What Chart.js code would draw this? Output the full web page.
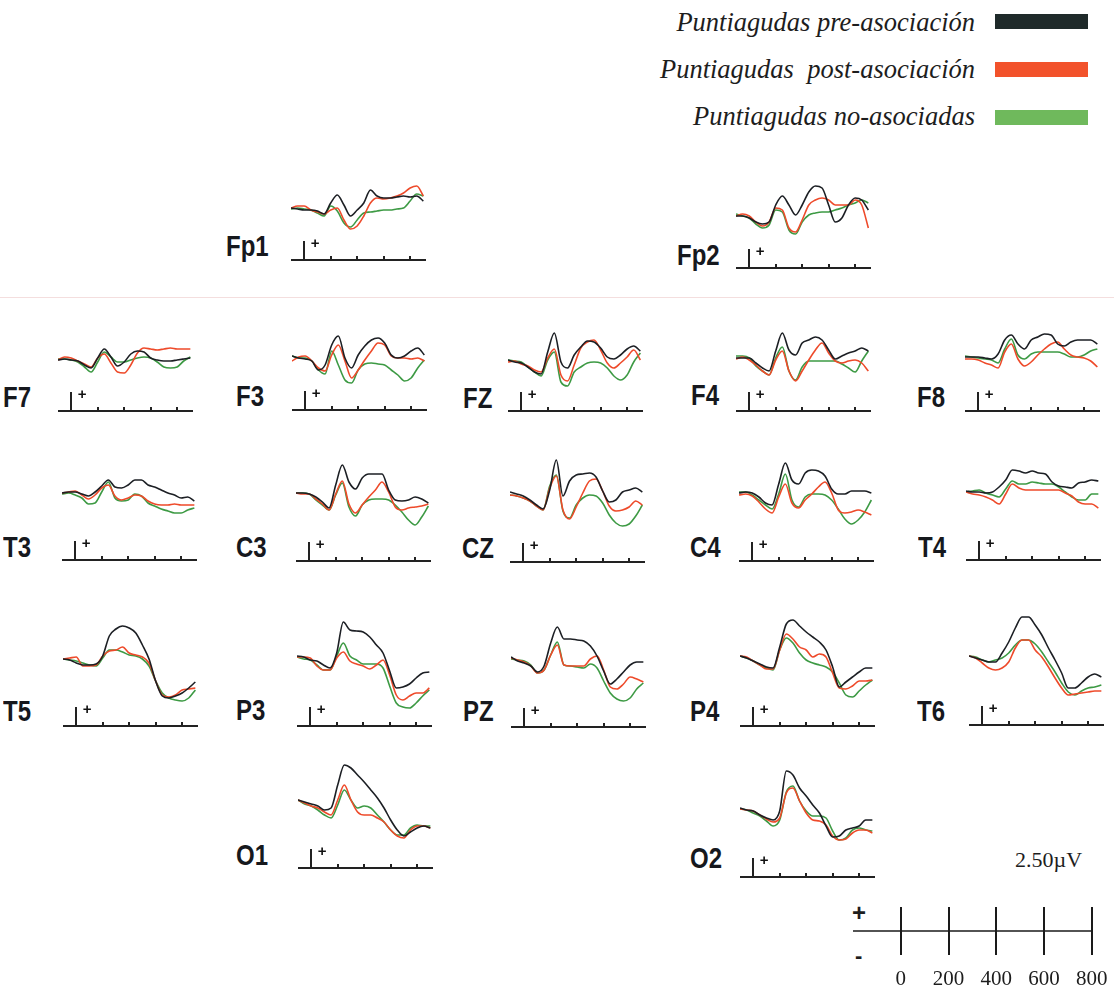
<!DOCTYPE html>
<html>
<head>
<meta charset="utf-8">
<script src="https://cdn.jsdelivr.net/npm/chart.js@4.4.0/dist/chart.umd.min.js"></script>
<style>
  body { margin: 0; background: #fff; width: 1114px; height: 993px; position: relative; overflow: hidden; }
  canvas { position: absolute; }
  .lbl { position: absolute; font: bold 30px "Liberation Sans", Arial, sans-serif; color: #16181d;
         line-height: 1; white-space: nowrap; transform: scaleX(0.8); transform-origin: 0 0; }
  .leg { position: absolute; right: 139px; font: italic 26.5px "Liberation Serif", "Times New Roman", serif;
         color: #1d1d1d; line-height: 1; white-space: nowrap; }
  .sw { position: absolute; left: 995px; width: 93px; height: 15px; }
  .txt { position: absolute; line-height: 1; white-space: nowrap; color: #1d1d1d; }
  .fold { position: absolute; left: 0; top: 297px; width: 1114px; height: 1px; background: #f4dede; }
</style>
</head>
<body>
<div class="fold"></div>

<div class="leg" style="top:9px">Puntiagudas pre-asociación</div>
<div class="leg" style="top:56px">Puntiagudas&nbsp; post-asociación</div>
<div class="leg" style="top:103px">Puntiagudas no-asociadas</div>
<div class="sw" style="top:14px;background:#1f2a2a"></div>
<div class="sw" style="top:62px;background:#f2522b"></div>
<div class="sw" style="top:110px;background:#6fb95c"></div>

<div class="txt" style="left:1015px;top:847px;font:22px 'Liberation Serif',serif">2.50µV</div>
<div class="txt" style="left:852px;top:899px;font:bold 24px 'Liberation Sans',sans-serif">+</div>
<div class="txt" style="left:855px;top:943px;font:bold 22px 'Liberation Sans',sans-serif">-</div>

<script>
// time points (ms) for every trace
const times = [-100, -50, 0, 50, 100, 150, 200, 250, 300, 350, 400, 450, 500, 550, 600, 650, 700, 750, 800, 850, 900];
const axisTicks = [0, 200, 400, 600, 800];
const scaleTicks = [0, 200, 400, 600, 800];

// amplitudes in µV (positive up), one array per electrode and condition
const fp1Pre  = [0, -0.1, -0.2, -0.2, -0.3, -0.6, 0.5, 1.3, 0.3, -0.8, -0.2, 0.5, 1.8, 1.2, 1.0, 1.0, 1.1, 1.2, 1.1, 1.2, 0.7];
const fp1Post = [0, 0.2, 0.2, -0.2, -0.4, -0.6, -0.2, 0, -1.2, -2.1, -1.8, -0.8, 0.5, 1.0, 0.9, 1.0, 1.2, 1.5, 2.0, 2.2, 1.2];
const fp1No   = [-0.1, 0, -0.1, -0.2, -0.5, -0.8, 0.2, -0.3, -1.5, -1.9, -1.2, -0.5, -0.4, -0.3, -0.2, -0.2, -0.1, 0, 0.7, 1.4, 1.2];

const fp2Pre  = [0, 0, -0.2, -0.6, -0.8, -0.6, 1.1, 2.0, 1.1, 0.1, 1.1, 2.4, 3.0, 2.8, 1.1, -0.6, -0.2, 1.1, 1.8, 1.6, 0.6];
const fp2Post = [0, 0.2, 0, -0.6, -1.0, -0.6, 0.8, 0.6, -1.2, -1.6, -0.4, 1.1, 1.6, 1.8, 1.6, 1.1, 1.1, 1.1, 1.6, 1.1, -1.2];
const fp2No   = [0.2, 0, -0.2, -0.8, -1.2, -0.9, 0.6, 0.4, -1.4, -1.8, -0.6, 0.1, 0.3, 0.4, 0.4, 0.6, 0.8, 1.1, 1.3, 1.6, 1.3];

const f7Pre  = [0, 0.1, 0, -0.1, -0.5, -0.8, 0.2, 1.1, 0.3, -0.6, -0.2, 0.6, 0.9, 0.8, 0.2, 0, -0.1, -0.1, 0, 0.1, 0.2];
const f7Post = [0, 0.3, 0.2, -0.1, -0.4, -0.7, 0.2, 0.6, -0.3, -1.2, -1.3, -0.5, 0.7, 1.2, 1.1, 1.0, 1.1, 1.2, 1.1, 1.1, 1.1];
const f7No   = [0.1, 0.1, 0, -0.2, -0.7, -1.2, -0.2, 0.8, 0.3, -0.2, -0.2, 0, 0.2, 0.3, 0.2, -0.2, -0.7, -0.8, -0.7, -0.1, 0.3];

const f3Pre  = [0.2, 0, -0.1, -0.3, -1.2, -0.7, 1.3, 2.2, 0, -1.0, 0.3, 1.2, 1.8, 2.0, 1.5, 0.3, 0, 0.2, 0.7, 1.0, 0.3];
const f3Post = [-0.3, 0.1, 0.2, -0.3, -1.0, -1.3, 0.3, 1.3, -0.3, -2.0, -1.2, -0.2, 0.7, 1.5, 1.3, 0.2, 0, 0, -0.1, 0, -0.3];
const f3No   = [0.2, 0, 0, -0.3, -1.2, -1.6, 0.7, -0.7, -2.2, -2.5, -1.2, -0.6, -0.5, -0.6, -0.7, -1.2, -1.7, -2.3, -2.0, -1.0, -0.2];

const fzPre  = [0.1, -0.1, -0.2, -0.6, -1.1, -1.3, 0.9, 2.8, -0.1, -0.7, 0.6, 1.4, 2.0, 1.9, 1.3, 0.4, 0.2, 0.6, 1.2, 1.5, 1.0];
const fzPost = [-0.1, 0, -0.3, -0.5, -0.9, -1.1, 0.3, 1.2, -1.4, -2.0, -0.4, 1.3, 1.9, 2.1, 1.1, -0.2, -0.7, -0.2, 0.4, 1.1, 0.1];
const fzNo   = [0.1, 0, -0.1, -0.6, -1.1, -1.5, 0.1, 0.9, -2.1, -2.5, -1.1, -0.6, -0.2, -0.1, -0.2, -0.7, -1.5, -1.9, -1.4, -0.1, 0.8];

const f4Pre  = [0, 0, 0, -0.5, -1.0, -1.3, 0.7, 2.5, 0.8, 0.3, 1.5, 1.8, 2.1, 1.8, 0.8, -0.1, 0.2, 0.5, 0.7, 1.0, 0.7];
const f4Post = [-0.1, 0.1, -0.2, -0.7, -1.3, -1.7, -0.2, 0.7, -1.3, -2.3, -1.3, -0.2, 0.8, 1.5, 0.5, -0.3, -0.5, -0.3, -0.2, -0.5, -1.3];
const f4No   = [0.2, 0.2, 0, -0.8, -1.3, -1.7, 0, 1.1, -1.3, -2.2, -0.9, -0.3, -0.3, -0.3, -0.3, -0.3, -0.6, -1.0, -1.4, -0.3, 0.7];

const f8Pre  = [0, 0, 0, -0.1, -0.2, 0.3, 1.7, 2.2, 1.3, 0.8, 1.7, 2.0, 2.3, 2.2, 1.3, 1.1, 1.5, 1.7, 1.7, 1.7, 1.3];
const f8Post = [-0.2, -0.2, -0.3, -0.6, -0.8, -1.1, 0.5, 1.3, -0.2, -0.9, -0.5, 0.2, 0.8, 1.3, 1.5, 0.8, 0.2, 0, -0.1, -0.4, -1.0];
const f8No   = [0.1, 0, -0.1, -0.2, -0.3, -0.6, 0.8, 1.8, 0.2, -0.2, 0.3, 0.5, 0.5, 0.5, 0.5, 0.3, 0, 0, 0.2, 0.6, 0.8];

const t3Pre  = [0, 0.1, 0.1, -0.1, -0.3, 0.1, 0.7, 1.3, 0.6, 0.5, 0.8, 1.3, 1.3, 0.8, 0.6, 0.3, 0, -0.2, -0.5, -0.4, -0.8];
const t3Post = [0, 0.1, 0.2, -0.2, -0.6, -0.2, 0.5, 0.8, -0.3, -0.7, -0.5, -0.2, -0.3, -0.8, -1.1, -1.2, -1.2, -1.1, -1.2, -1.2, -1.2];
const t3No   = [-0.1, 0, -0.2, -0.5, -1.1, -1.0, 0.1, 1.1, -0.5, -0.8, -0.7, -0.1, -0.3, -1.0, -1.3, -1.6, -1.8, -2.0, -2.0, -1.7, -1.5];

const c3Pre  = [0, 0, -0.1, -0.4, -0.9, -1.5, 0.8, 2.8, 1.1, 0.4, 1.5, 1.9, 1.9, 1.9, 0.3, -0.7, -0.8, -0.7, -0.4, -0.6, -1.0];
const c3Post = [0, -0.1, -0.1, -0.6, -1.1, -1.7, -0.1, 1.2, -1.1, -2.0, -1.2, -0.4, 0.3, 1.1, 0.1, -1.4, -1.7, -1.5, -1.4, -1.3, -1.1];
const c3No   = [0, 0, -0.1, -0.7, -1.2, -1.7, -0.2, 1.0, -1.4, -2.3, -1.2, -0.7, -0.6, -0.6, -0.7, -1.2, -1.9, -2.7, -3.2, -2.4, -1.3];

const czPre  = [0.1, -0.1, -0.3, -0.7, -1.2, -1.6, 0.3, 3.3, -0.3, 1.2, 1.8, 1.9, 2.0, 1.6, 0.2, -0.9, -0.7, 0.1, 0.3, 0.5, 0.1];
const czPost = [-0.2, -0.3, -0.5, -0.8, -1.3, -1.7, 0.5, 1.7, -1.7, -2.6, -1.4, 0, 1.2, 1.4, 0.2, -1.3, -1.8, -1.7, -1.4, -0.8, -1.2];
const czNo   = [-0.2, -0.3, -0.5, -0.8, -1.3, -1.7, 0.7, 1.8, -1.8, -2.5, -1.2, -0.5, -0.2, -0.3, -1.0, -2.2, -3.0, -3.3, -3.1, -2.3, -1.2];

const c4Pre  = [0, 0.1, 0, -0.4, -1.0, -1.2, 0.9, 3.0, 1.3, 0.9, 2.0, 2.3, 2.2, 1.7, 0.4, -0.1, -0.1, 0.2, 0.2, 0.2, 0];
const c4Post = [-0.2, -0.1, -0.3, -0.9, -1.6, -2.0, -0.4, 0.9, -1.0, -1.5, -0.7, -0.1, 0.6, 1.1, 0, -1.7, -2.0, -1.9, -1.7, -1.9, -2.2];
const c4No   = [0.1, 0.1, -0.2, -0.7, -1.2, -1.6, -0.1, 1.9, -0.7, -1.4, -0.4, -0.1, -0.1, -0.2, -0.7, -1.6, -2.6, -3.1, -2.7, -1.9, -0.7];

const t4Pre  = [0.1, 0, 0, -0.1, 0, 0.5, 1.2, 2.2, 2.1, 1.9, 2.1, 1.9, 1.8, 1.0, 0.6, 0.5, 0.4, 0.9, 1.0, 1.2, 1.1];
const t4Post = [0, -0.2, -0.3, -0.5, -0.8, -1.2, -0.2, 0.8, 0.4, 0.2, 0.2, 0.2, 0.2, 0.2, 0.2, -0.1, -0.4, -1.0, -1.2, -1.2, -1.6];
const t4No   = [0, 0.1, 0.2, -0.1, -0.3, -0.5, 0.3, 1.1, 0.8, 0.8, 1.0, 0.9, 0.8, 0.8, 0.5, 0, -0.5, -0.8, -0.8, -0.2, -0.2];

const t5Pre  = [0, -0.1, -0.4, -0.6, -0.6, -0.5, 0.3, 2.3, 3.0, 3.3, 3.1, 2.6, 1.4, 0, -2.2, -3.7, -3.9, -3.7, -3.4, -2.9, -2.3];
const t5Post = [0, 0.1, 0.2, -0.7, -0.7, -0.6, 0.3, 0.8, 0.9, 1.2, 0.6, 0.4, 0.2, -0.4, -2.2, -3.6, -3.8, -3.6, -3.1, -3.0, -2.9];
const t5No   = [0, -0.1, -0.2, -0.4, -0.6, -0.7, 0.1, 0.9, 0.9, 0.7, 0.4, 0.3, 0, -0.7, -2.2, -3.4, -3.9, -4.1, -4.2, -3.9, -3.1];

const p3Pre  = [0.1, 0, -0.3, -0.4, -0.8, -1.1, 0.4, 3.5, 2.7, 2.6, 2.5, 2.0, 1.2, 0.4, -1.4, -3.1, -3.0, -2.7, -2.1, -1.6, -1.5];
const p3Post = [0, 0, -0.1, -0.9, -1.3, -1.3, -0.1, 0.5, -0.4, -0.7, -0.9, -1.2, -0.8, -0.3, -1.8, -3.8, -4.3, -3.9, -3.6, -3.6, -3.1];
const p3No   = [0, -0.2, -0.3, -0.8, -1.3, -1.3, 0.1, 1.4, 0.1, -0.3, -0.7, -0.7, -0.7, -1.1, -2.9, -4.6, -5.0, -5.1, -4.6, -3.9, -3.3];

const pzPre  = [0.1, -0.3, -0.5, -0.8, -1.4, -0.8, 1.5, 3.1, 1.9, 1.9, 1.8, 1.7, 1.2, 0.2, -1.3, -2.6, -2.1, -1.4, -0.7, -0.4, -0.4];
const pzPost = [0, -0.2, -0.4, -0.8, -1.5, -1.2, 0.3, 1.3, -0.7, -0.8, -0.8, -0.8, -0.1, 0.2, -1.2, -2.9, -3.1, -2.6, -1.9, -2.1, -2.4];
const pzNo   = [-0.1, -0.2, -0.3, -0.7, -1.5, -1.2, 0.3, 1.6, -0.7, -0.8, -0.9, -1.0, -0.6, -1.0, -2.3, -3.5, -4.1, -4.3, -4.0, -3.1, -2.5];

const p4Pre  = [0, -0.2, -0.5, -0.8, -1.1, -1.2, 0.9, 3.2, 3.6, 3.0, 2.4, 1.9, 1.4, 0.6, -1.1, -3.1, -2.6, -2.1, -1.6, -1.2, -1.2];
const p4Post = [0, -0.1, -0.5, -0.9, -1.3, -1.3, 0.6, 2.2, 1.7, 0.9, 0.6, -0.1, 0.2, -0.1, -1.7, -3.2, -3.3, -3.0, -2.5, -2.5, -2.4];
const p4No   = [0, -0.2, -0.5, -0.9, -1.2, -1.4, 0.6, 1.8, 1.3, 0.3, -0.4, -0.7, -0.9, -1.1, -1.6, -2.7, -3.9, -4.1, -3.5, -2.9, -2.4];

const t6Pre  = [0, -0.2, -0.4, -0.6, -0.6, 0.3, 1.4, 2.8, 3.9, 3.9, 3.1, 2.1, 0.8, -0.4, -1.7, -3.2, -3.2, -2.7, -2.1, -1.8, -2.1];
const t6Post = [0, -0.2, -0.7, -1.2, -1.4, -1.2, -0.6, 0.8, 1.6, 1.6, 0.6, -0.1, -1.1, -2.2, -3.2, -3.9, -3.8, -3.7, -3.6, -3.5, -3.5];
const t6No   = [0, -0.1, -0.4, -0.6, -0.4, -0.2, 0.3, 1.1, 1.6, 1.6, 1.2, 0.4, -0.6, -1.6, -2.7, -3.6, -3.9, -3.5, -3.2, -3.1, -2.9];

const o1Pre  = [0, -0.2, -0.4, -0.6, -1.0, -0.8, 1.5, 3.5, 3.2, 2.5, 1.8, 1.0, 0.2, -0.8, -2.0, -3.0, -3.6, -3.2, -2.8, -2.6, -2.8];
const o1Post = [0, -0.3, -0.6, -0.8, -1.2, -1.5, 0, 1.5, 0, -1.2, -1.5, -1.5, -1.8, -2.2, -3.0, -3.6, -3.8, -3.0, -2.6, -2.6, -2.8];
const o1No   = [0, -0.4, -0.6, -1.0, -1.5, -1.8, -0.5, 1.0, 0, -0.8, -0.6, -0.8, -1.5, -2.2, -3.0, -3.5, -3.5, -2.8, -2.5, -2.6, -2.6];

const o2Pre  = [0.1, -0.1, -0.2, -0.6, -0.9, -1.1, -0.2, 3.8, 3.4, 2.1, 1.3, 0.4, -0.4, -1.7, -2.8, -2.7, -2.1, -1.9, -1.7, -1.1, -1.1];
const o2Post = [0, -0.1, -0.2, -0.6, -1.0, -1.3, -0.9, 1.6, 2.1, 0.8, -0.4, -1.1, -1.2, -1.6, -2.7, -3.1, -3.0, -2.4, -2.1, -2.1, -2.4];
const o2No   = [0, -0.1, -0.4, -0.7, -1.2, -1.7, -1.1, 1.7, 2.3, 0.8, -0.2, -0.7, -0.7, -0.9, -2.2, -3.1, -2.9, -2.1, -1.9, -2.1, -2.2];

const seriesNames = ['Puntiagudas pre-asociación', 'Puntiagudas post-asociación', 'Puntiagudas no-asociadas'];
const traceColors = ['#1c1f24', '#ee4a2a', '#3d9a44'];

// where each electrode sits on the page: left edge of the time axis, axis height, baseline gap, label spot
const panels = [
  { name: 'Fp1', left: 291, axisY: 260, gap: 52, lx: 226, ly: 246, data: [fp1Pre, fp1Post, fp1No] },
  { name: 'Fp2', left: 736, axisY: 268, gap: 52, lx: 677, ly: 255, data: [fp2Pre, fp2Post, fp2No] },
  { name: 'F7',  left: 58,  axisY: 411, gap: 51, lx: 3,   ly: 397, data: [f7Pre, f7Post, f7No] },
  { name: 'F3',  left: 292, axisY: 410, gap: 52, lx: 236, ly: 396, data: [f3Pre, f3Post, f3No] },
  { name: 'FZ',  left: 508, axisY: 411, gap: 50, lx: 463, ly: 398, data: [fzPre, fzPost, fzNo] },
  { name: 'F4',  left: 736, axisY: 411, gap: 53, lx: 691, ly: 395, data: [f4Pre, f4Post, f4No] },
  { name: 'F8',  left: 965, axisY: 411, gap: 54, lx: 917, ly: 397, data: [f8Pre, f8Post, f8No] },
  { name: 'T3',  left: 62,  axisY: 560, gap: 67, lx: 3,   ly: 547, data: [t3Pre, t3Post, t3No] },
  { name: 'C3',  left: 296, axisY: 561, gap: 68, lx: 236, ly: 547, data: [c3Pre, c3Post, c3No] },
  { name: 'CZ',  left: 510, axisY: 562, gap: 69, lx: 462, ly: 548, data: [czPre, czPost, czNo] },
  { name: 'C4',  left: 739, axisY: 561, gap: 68, lx: 690, ly: 547, data: [c4Pre, c4Post, c4No] },
  { name: 'T4',  left: 966, axisY: 560, gap: 68, lx: 918, ly: 547, data: [t4Pre, t4Post, t4No] },
  { name: 'T5',  left: 63,  axisY: 726, gap: 67, lx: 3,   ly: 711, data: [t5Pre, t5Post, t5No] },
  { name: 'P3',  left: 297, axisY: 726, gap: 69, lx: 236, ly: 710, data: [p3Pre, p3Post, p3No] },
  { name: 'PZ',  left: 511, axisY: 727, gap: 69, lx: 463, ly: 711, data: [pzPre, pzPost, pzNo] },
  { name: 'P4',  left: 740, axisY: 726, gap: 70, lx: 690, ly: 711, data: [p4Pre, p4Post, p4No] },
  { name: 'T6',  left: 969, axisY: 725, gap: 69, lx: 917, ly: 711, data: [t6Pre, t6Post, t6No] },
  { name: 'O1',  left: 298, axisY: 868, gap: 68, lx: 236, ly: 855, data: [o1Pre, o1Post, o1No] },
  { name: 'O2',  left: 740, axisY: 877, gap: 68, lx: 690, ly: 858, data: [o2Pre, o2Post, o2No] }
];

const W = 135, H = 130, PX_PER_UV = 10;

// time axis under each panel: baseline, tall stimulus mark at 0 with "+", small ticks
const timeAxis = {
  id: 'timeAxis',
  afterDatasetsDraw(chart, args, opts) {
    const { ctx, scales: { x, y } } = chart;
    const y0 = Math.round(y.getPixelForValue(opts.level));
    ctx.save();
    ctx.strokeStyle = '#222';
    ctx.lineWidth = 2;
    ctx.beginPath();
    ctx.moveTo(x.left, y0);
    ctx.lineTo(x.right, y0);
    axisTicks.forEach(t => {
      const px = Math.round(x.getPixelForValue(t));
      ctx.moveTo(px, y0);
      ctx.lineTo(px, y0 - (t === 0 ? 19 : 4));
    });
    ctx.stroke();
    ctx.fillStyle = '#111';
    ctx.font = 'bold 15px "Liberation Sans", sans-serif';
    ctx.textAlign = 'center';
    ctx.textBaseline = 'middle';
    ctx.fillText('+', x.getPixelForValue(0) + 11, y0 - 16);
    ctx.restore();
  }
};

panels.forEach(p => {
  const cv = document.createElement('canvas');
  cv.width = W;
  cv.height = H;
  cv.style.left = p.left + 'px';
  cv.style.top = (p.axisY - H + 2) + 'px';
  document.body.appendChild(cv);

  const lab = document.createElement('div');
  lab.className = 'lbl';
  lab.textContent = p.name;
  lab.style.left = p.lx + 'px';
  lab.style.top = (p.ly - 15) + 'px';
  document.body.appendChild(lab);

  new Chart(cv, {
    type: 'line',
    data: {
      datasets: p.data.map((vals, i) => ({
        label: seriesNames[i],
        data: times.map((t, k) => ({ x: t, y: vals[k] })),
        borderColor: traceColors[i],
        borderWidth: 1.6,
        pointRadius: 0,
        cubicInterpolationMode: 'monotone',
        clip: false
      }))
    },
    options: {
      responsive: false,
      animation: false,
      events: [],
      layout: { padding: 0 },
      plugins: {
        legend: { display: false },
        tooltip: { enabled: false },
        timeAxis: { level: -p.gap / PX_PER_UV }
      },
      scales: {
        x: { type: 'linear', min: -100, max: 920, display: false },
        y: { min: -(p.gap + 2) / PX_PER_UV, max: (H - p.gap - 2) / PX_PER_UV, display: false }
      }
    },
    plugins: [timeAxis]
  });
});

// calibration bar: ms ticks and ±2.5 µV, drawn from the chart's own scales
const calibBar = {
  id: 'calibBar',
  afterDraw(chart) {
    const { ctx, scales: { x, y } } = chart;
    const yMid = Math.round(y.getPixelForValue(0));
    const yTop = y.getPixelForValue(2.5), yBot = y.getPixelForValue(-2.5);
    ctx.save();
    ctx.strokeStyle = '#1a1a1a';
    ctx.lineWidth = 1.6;
    ctx.beginPath();
    ctx.moveTo(x.left, yMid);
    ctx.lineTo(x.right, yMid);
    ctx.stroke();
    ctx.lineWidth = 2;
    ctx.beginPath();
    scaleTicks.forEach(t => {
      const px = Math.round(x.getPixelForValue(t));
      ctx.moveTo(px, yTop);
      ctx.lineTo(px, yBot);
    });
    ctx.stroke();
    ctx.fillStyle = '#1d1d1d';
    ctx.font = '21px "Liberation Serif", serif';
    ctx.textAlign = 'center';
    ctx.textBaseline = 'middle';
    scaleTicks.forEach(t => ctx.fillText(String(t), x.getPixelForValue(t), yBot + 24));
    ctx.restore();
  }
};

const scaleCv = document.createElement('canvas');
scaleCv.width = 261;
scaleCv.height = 98;
scaleCv.style.left = '853px';
scaleCv.style.top = '895px';
document.body.appendChild(scaleCv);

new Chart(scaleCv, {
  type: 'line',
  data: { datasets: [] },
  options: {
    responsive: false,
    animation: false,
    events: [],
    layout: { padding: { top: 12, right: 21, left: 0, bottom: 38 } },
    plugins: { legend: { display: false }, tooltip: { enabled: false } },
    scales: {
      x: { type: 'linear', min: -200, max: 805, display: false },
      y: { min: -2.5, max: 2.5, display: false }
    }
  },
  plugins: [calibBar]
});
</script>
</body>
</html>
